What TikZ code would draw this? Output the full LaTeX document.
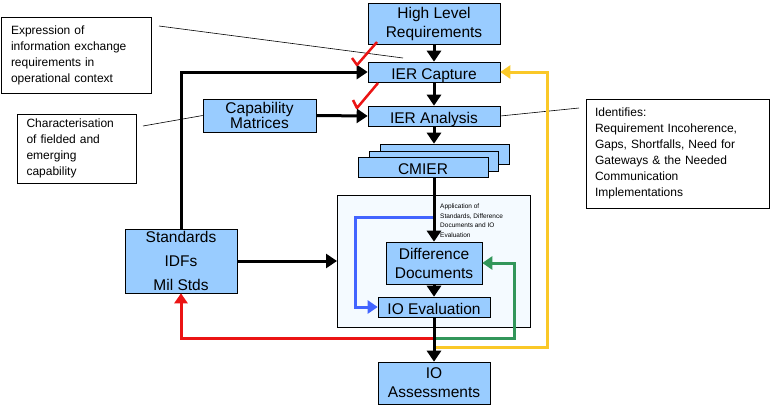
\documentclass[tikz,border=0pt]{standalone}
\usepackage{fontspec}
\setmainfont{Liberation Sans}
\usetikzlibrary{arrows.meta, positioning}
\definecolor{boxblue}{RGB}{153,204,255}
\definecolor{panelfill}{RGB}{244,250,255}
\definecolor{fbblue}{RGB}{66,100,255}
\definecolor{fbgreen}{RGB}{50,150,90}
\definecolor{fbred}{RGB}{235,20,20}
\definecolor{fbyellow}{RGB}{250,200,40}
\tikzset{
  procbox/.style = {draw=black, fill=boxblue, align=center, inner sep=0pt,
    font=\fontsize{15.5}{19}\selectfont, line width=0.6pt},% process box
  lowbox/.style = {procbox, minimum height=20pt, text height=15pt,
    text depth=1pt},% one line, text sits low
  notebox/.style = {draw=black, fill=white, align=left, inner sep=0pt,
    text width=#1, font=\fontsize{12}{16}\selectfont, line width=0.6pt},% callout
  flow/.style = {line width=3pt, -{Triangle[length=11pt,width=14pt]}},
  fback/.style = {line width=3pt, -{Triangle[length=10pt,width=13pt]}},
  lead/.style = {line width=0.6pt}
}
\begin{document}
\begin{tikzpicture}[x=1pt, y=-1pt]
  \useasboundingbox (0,0) rectangle (770,413);
  % panel round the evaluation steps
  \draw[fill=panelfill, line width=0.6pt] (337,195) rectangle (530,327);
  % main chain
  \node (hlr) [procbox, minimum width=132pt, minimum height=41pt] at (434,23.5)
    {High Level\\Requirements};
  \node (cap) [lowbox, minimum width=132pt] at (434,72) {IER Capture};
  \node (ana) [lowbox, minimum width=132pt] at (434,116) {IER Analysis};
  \node (cm3) [lowbox, minimum width=129pt] at (444.5,154) {};
  \node (cm2) [lowbox, minimum width=129pt] at (433.5,161) {};
  \node (cmier) [lowbox, minimum width=130pt] at (423,167) {CMIER};
  \node (dd) [procbox, minimum width=96pt, minimum height=42pt] at (434,263)
    {Difference\\Documents};
  \node (ioe) [lowbox, minimum width=112pt] at (434,307) {IO Evaluation};
  \node (ioa) [procbox, minimum width=112pt, minimum height=42pt] at (434,383)
    {IO\\Assessments};
  \node (stds) [procbox, minimum width=112pt, minimum height=64pt] at (181,261)
    {Standards\\[5pt]IDFs\\[5pt]Mil Stds};
  \node (capm) [procbox, minimum width=113pt, minimum height=33pt] at (259.5,115.5)
    {Capability\\[-4pt]Matrices};
  % callouts
  \node (nexpr) [notebox=130pt, minimum height=76pt, minimum width=150pt,
    inner xsep=10pt] at (76,55)
    {Expression of\\information exchange\\requirements in\\operational context};
  \node (nchar) [notebox=100pt, minimum height=69pt, minimum width=119pt,
    inner xsep=9pt] at (76.5,148.5)
    {Characterisation\\of fielded and\\emerging\\capability};
  \node (nident) [notebox=165pt, minimum height=109pt, minimum width=183pt,
    inner xsep=9pt] at (677.5,153.5)
    {Identifies:\\Requirement Incoherence,\\Gaps, Shortfalls, Need for\\Gateways \& the Needed\\Communication\\Implementations};
  \node (applab) [anchor=north west, align=left, inner sep=0pt,
    font=\fontsize{6.5}{9.5}\selectfont] at (440,204)
    {Application of\\Standards, Difference\\Documents and IO\\Evaluation};
  % leader lines
  \coordinate (lx1) at (159,26);
  \coordinate (lx2) at (403,58);
  \coordinate (lc1) at (143,126);
  \coordinate (li1) at (579,108);
  \draw[lead] (lx1) -- (lx2);
  \draw[lead] (lc1) -- (capm.west);
  \draw[lead] (ana.east) -- (li1);
  % feedback loops
  \coordinate (split) at (434,338);
  \coordinate (ysplit) at (434,347);
  \coordinate (gcorner) at (514,338);
  \coordinate (ycorner) at (547,347);
  \coordinate (bstart) at (434,217);
  \coordinate (bcorner) at (355,217);
  \draw[fback, fbyellow] (ysplit) -- (ycorner) |- (cap.east);
  \draw[fback, fbgreen] (split) -- (gcorner) |- (dd.east);
  \draw[fback, fbred] (split) -| (stds.south);
  \draw[fback, fbblue] (bstart) -- (bcorner) |- (ioe.west);
  % forward flow
  \draw[flow] (hlr) -- (cap);
  \draw[flow] (cap) -- (ana);
  \draw[flow] (ana) -- (cm3.north -| ana.south);
  \draw[flow] (cmier.south -| dd.north) -- (dd);
  \draw[flow] (dd) -- (ioe);
  \draw[flow] (ioe) -- (ioa);
  \draw[flow] (capm.east) -- (ana.west);
  \draw[flow] (stds.east) -- (stds.east -| 337,0);
  \draw[flow] (stds.north) |- (cap.west);
  % ticks
  \draw[fbred, line width=2.5pt, line join=round] (352,58) -- (357,65) -- (377,42);
  \draw[fbred, line width=2.5pt, line join=round] (353,100) -- (357,108) -- (378,83);
\end{tikzpicture}
\end{document}
